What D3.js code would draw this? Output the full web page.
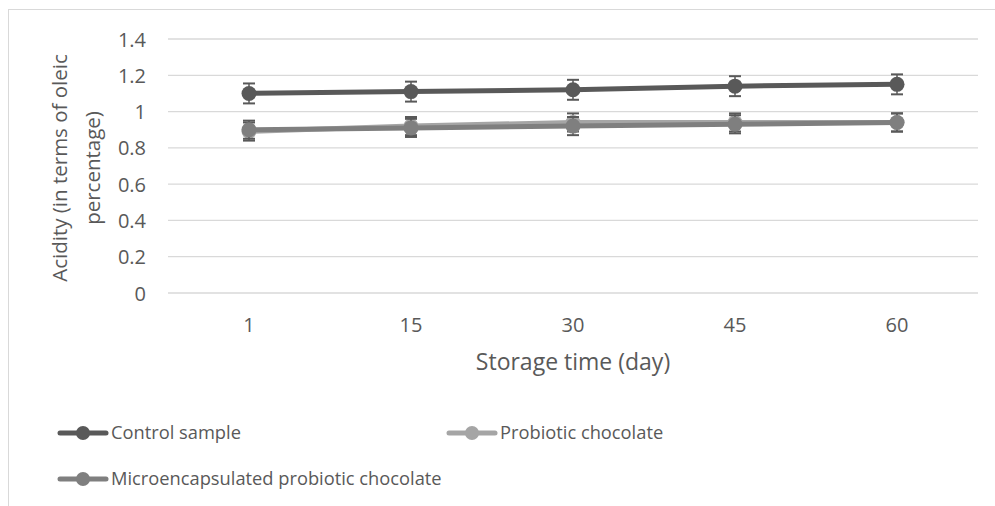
<!DOCTYPE html>
<html><head><meta charset="utf-8">
<script src="https://cdn.jsdelivr.net/npm/d3@7"></script>
<style>body{margin:0;background:#fff;} text{font-family:"Open Sans","Noto Sans",sans-serif;fill:#595959;}</style>
</head><body>
<svg id="c" width="995" height="506"></svg>
<script>
const categories = ["1","15","30","45","60"];
const seriesNames = ["Control sample","Probiotic chocolate","Microencapsulated probiotic chocolate"];
const controlValues = [1.10, 1.11, 1.12, 1.14, 1.15];
const probioticValues = [0.89, 0.92, 0.94, 0.94, 0.94];
const microValues = [0.90, 0.91, 0.92, 0.93, 0.94];
const controlErr = [0.055, 0.055, 0.055, 0.055, 0.055];
const probioticErr = [0.05, 0.05, 0.05, 0.05, 0.05];
const microErr = [0.05, 0.05, 0.05, 0.05, 0.05];
const yTicks = [0, 0.2, 0.4, 0.6, 0.8, 1, 1.2, 1.4];
const colors = ["#595959", "#a5a5a5", "#7f7f7f"];
const xTitle = "Storage time (day)";
const yTitleLines = ["Acidity (in terms of oleic", "percentage)"];

const svg = d3.select("#c");
svg.append("rect").attr("x",8.5).attr("y",9.5).attr("width",1200).attr("height",800)
  .attr("fill","none").attr("stroke","#d9d9d9").attr("stroke-width",1);

const L = 168, R = 978, T = 39, B = 293;
const x = d3.scaleBand().domain(categories).range([L,R]);
const y = d3.scaleLinear().domain([0,1.4]).range([B,T]);

svg.append("g").selectAll("line").data(yTicks).join("line")
  .attr("x1",L).attr("x2",R).attr("y1",d=>y(d)).attr("y2",d=>y(d))
  .attr("stroke","#d9d9d9").attr("stroke-width",1.3);

const yAxis = d3.axisLeft(y).tickValues(yTicks).tickFormat(d=>String(d)).tickSize(0).tickPadding(0);
const gy = svg.append("g").attr("transform",`translate(146,0)`).call(yAxis);
gy.select(".domain").remove();
gy.selectAll("text").style("font-size","20px").style("font-family",null).attr("fill","#595959").attr("dy","0.35em");

const xAxis = d3.axisBottom(x).tickSize(0).tickPadding(0);
const gx = svg.append("g").attr("transform",`translate(0,${B+25})`).call(xAxis);
gx.select(".domain").remove();
gx.selectAll("text").style("font-size","20px").attr("fill","#595959").attr("dy","0.71em");

svg.append("text").attr("x",(L+R)/2).attr("y",370).attr("text-anchor","middle")
  .style("font-size","23px").text(xTitle);
const yt = svg.append("text").attr("transform","translate(0,168) rotate(-90)").attr("text-anchor","middle").style("font-size","20.5px");
yt.append("tspan").attr("x",0).attr("y",67).text(yTitleLines[0]);
yt.append("tspan").attr("x",0).attr("y",100).text(yTitleLines[1]);

const series = [
  {name:seriesNames[0], vals:controlValues, err:controlErr, color:colors[0]},
  {name:seriesNames[1], vals:probioticValues, err:probioticErr, color:colors[1]},
  {name:seriesNames[2], vals:microValues, err:microErr, color:colors[2]}
];
const cx = c => x(c) + x.bandwidth()/2;
const line = d3.line().x(d=>cx(d.c)).y(d=>y(d.v));

series.forEach(s=>{
  const pts = categories.map((c,i)=>({c, v:s.vals[i], e:s.err[i]}));
  const g = svg.append("g");
  g.selectAll("line.e").data(pts).join("line").attr("class","e")
    .attr("x1",d=>cx(d.c)).attr("x2",d=>cx(d.c)).attr("y1",d=>y(d.v+d.e)).attr("y2",d=>y(d.v-d.e))
    .attr("stroke","#595959").attr("stroke-width",1.5);
  ["+","-"].forEach(sg=>{
    g.selectAll("line.c"+(sg=="+"?"p":"m")).data(pts).join("line")
      .attr("x1",d=>cx(d.c)-6).attr("x2",d=>cx(d.c)+6)
      .attr("y1",d=>y(sg=="+"?d.v+d.e:d.v-d.e)).attr("y2",d=>y(sg=="+"?d.v+d.e:d.v-d.e))
      .attr("stroke","#595959").attr("stroke-width",2);
  });
  g.append("path").datum(pts).attr("d",line).attr("fill","none")
    .attr("stroke",s.color).attr("stroke-width",5).attr("stroke-linecap","round");
  g.selectAll("circle").data(pts).join("circle")
    .attr("cx",d=>cx(d.c)).attr("cy",d=>y(d.v)).attr("r",7.5).attr("fill",s.color);
});

const legPos = [{x:58,y:433},{x:447,y:433},{x:58,y:479}];
series.forEach((s,i)=>{
  const p = legPos[i];
  const g = svg.append("g");
  g.append("line").attr("x1",p.x+2).attr("x2",p.x+48).attr("y1",p.y).attr("y2",p.y)
    .attr("stroke",s.color).attr("stroke-width",5).attr("stroke-linecap","round");
  g.append("circle").attr("cx",p.x+25).attr("cy",p.y).attr("r",7).attr("fill",s.color);
  g.append("text").attr("x",p.x+53).attr("y",p.y).attr("dy","0.35em").style("font-size","18.3px").text(s.name);
});
</script>
</body></html>
